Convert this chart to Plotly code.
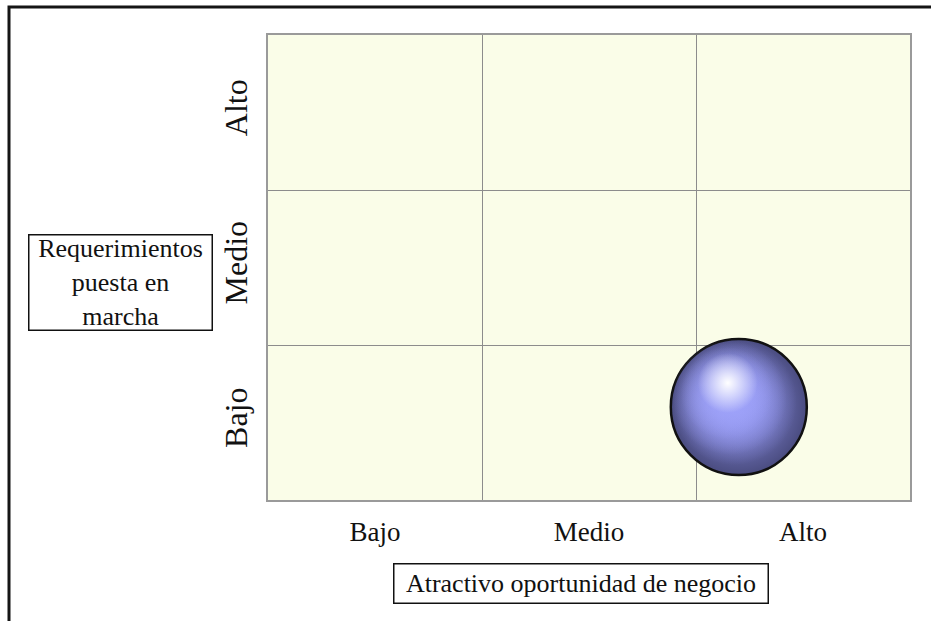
import plotly.graph_objects as go

# Category labels on both axes
x_levels = ["Bajo", "Medio", "Alto"]
y_levels = ["Bajo", "Medio", "Alto"]

# Position of the opportunity on the 0-3 matrix scale
bubble_x = [2.2]
bubble_y = [0.6]

W, H = 931, 621
M_L, M_R, M_T, M_B = 268, 21, 35, 121
PW, PH = W - M_L - M_R, H - M_T - M_B
px_x = PW / 3.0  # pixels per unit on x
px_y = PH / 3.0  # pixels per unit on y

R = 68  # sphere radius in px
SERIF = "Liberation Serif, Times New Roman, serif"


def shifted(dx_px, dy_px):
    xs = [v + dx_px / px_x for v in bubble_x]
    ys = [v + dy_px / px_y for v in bubble_y]
    return xs, ys


def glow(dx, dy, radius, rgb, alpha=1.0):
    xs, ys = shifted(dx, dy)
    r, g, b = rgb
    return go.Scatter(
        x=xs, y=ys, mode="markers", hoverinfo="skip", showlegend=False,
        marker=dict(size=2 * radius, color=f"rgba({r},{g},{b},0)",
                    gradient=dict(type="radial", color=f"rgba({r},{g},{b},{alpha})"),
                    line=dict(width=0)),
    )


fig = go.Figure()

# base sphere, darker towards the rim
fig.add_trace(go.Scatter(
    x=bubble_x, y=bubble_y, mode="markers", hoverinfo="skip", showlegend=False,
    marker=dict(size=2 * R, color="#4a4c80",
                gradient=dict(type="radial", color="#9498ee"),
                line=dict(color="#111111", width=2.5)),
))

# body tone, pushed towards the light (upper left)
fig.add_trace(glow(-5, 5, R - 5, (150, 154, 244), 1.0))
fig.add_trace(glow(-9, 9, R - 11, (156, 160, 248), 1.0))
fig.add_trace(glow(-12, 14, R - 22, (160, 164, 250), 0.9))

# specular highlight
fig.add_trace(glow(-11, 24, 30, (255, 255, 255), 1.0))

grid = dict(showgrid=True, gridcolor="#8c8c8c", gridwidth=1, tickvals=[1, 2])

fig.update_xaxes(
    range=[0, 3], tickvals=[0.5, 1.5, 2.5], ticktext=x_levels,
    showgrid=False, zeroline=False, showline=True, linecolor="#9a9a9a",
    linewidth=2, mirror=True, ticks="", ticklabelstandoff=7,
    tickfont=dict(family=SERIF, size=27, color="#111"),
    minor=grid, fixedrange=True,
)
fig.update_yaxes(
    range=[0, 3], tickvals=[0.5, 1.5, 2.5], ticktext=y_levels,
    showgrid=False, zeroline=False, showline=True, linecolor="#9a9a9a",
    linewidth=2, mirror=True, ticks="", tickangle=-90, ticklabelstandoff=6,
    tickfont=dict(family=SERIF, size=32, color="#111"),
    minor=grid, fixedrange=True,
)

# outer chart frame
fig.add_shape(type="rect", xref="paper", yref="paper",
              x0=(9 - M_L) / PW, x1=1.2, y0=-0.4, y1=1 + (M_T - 7) / PH,
              line=dict(color="#151515", width=3), layer="below")

# axis title boxes
fig.add_annotation(
    xref="paper", yref="paper", xanchor="center", yanchor="middle",
    x=(581 - M_L) / PW, y=-(583.5 - (M_T + PH)) / PH,
    text="Atractivo oportunidad de negocio", showarrow=False,
    font=dict(family=SERIF, size=26, color="#111"),
    width=369, height=34,
    bordercolor="#111", borderwidth=1.5, borderpad=2, bgcolor="white",
)
fig.add_annotation(
    xref="paper", yref="paper", xanchor="center", yanchor="middle",
    x=(120.5 - M_L) / PW, y=1 - (282.5 - M_T) / PH,
    text="Requerimientos<br>puesta en<br>marcha", showarrow=False,
    font=dict(family=SERIF, size=26, color="#111"), align="center",
    width=178, height=90,
    bordercolor="#111", borderwidth=1.5, borderpad=2, bgcolor="white",
)

fig.update_layout(
    width=W, height=H,
    margin=dict(l=M_L, r=M_R, t=M_T, b=M_B),
    paper_bgcolor="white", plot_bgcolor="#fafde8",
    showlegend=False,
)

fig.write_html("out.html", config={"displayModeBar": False})
